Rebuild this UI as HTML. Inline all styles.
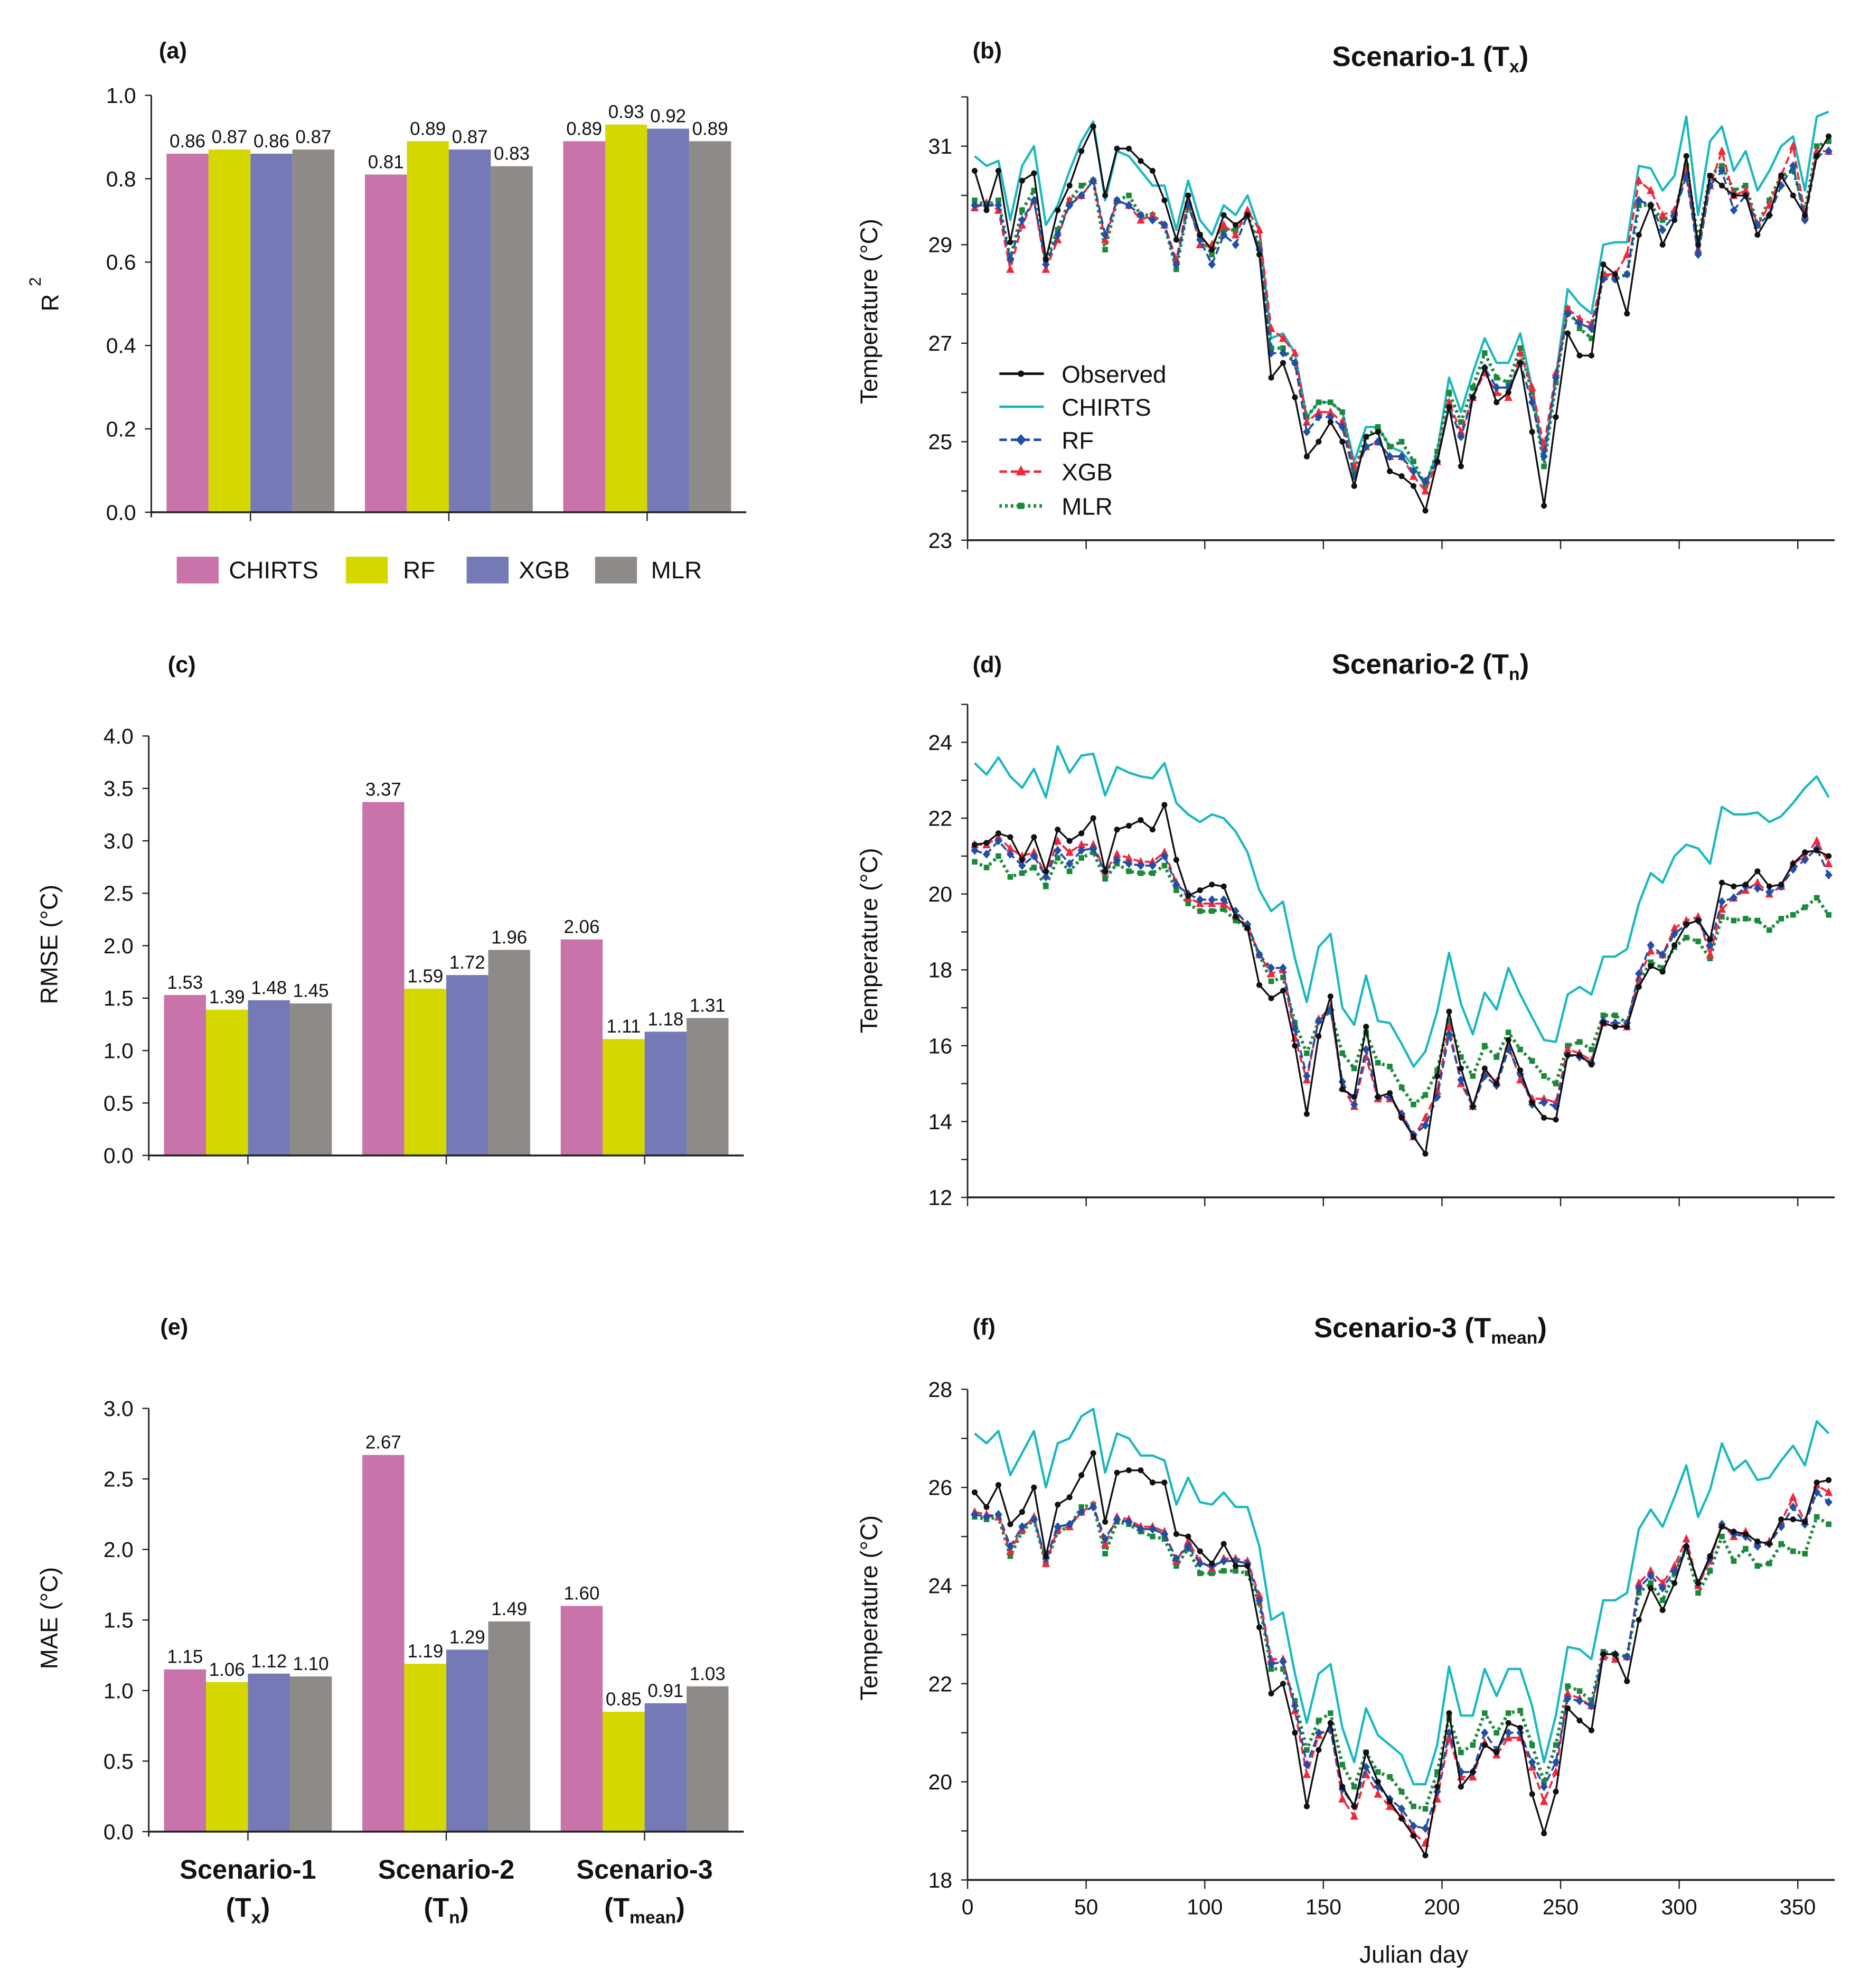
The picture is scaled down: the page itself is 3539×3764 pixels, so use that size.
<!DOCTYPE html>
<html><head><meta charset="utf-8">
<style>
html,body{margin:0;padding:0;background:#fff;}
svg{display:block;font-family:"Liberation Sans",Arial,sans-serif;}
</style></head>
<body>
<svg id="fig" width="3539" height="3764" viewBox="0 0 1470 1564" preserveAspectRatio="none" xmlns="http://www.w3.org/2000/svg">
<rect width="1470" height="1564" fill="#fff"/>
<g id="root"></g>
</svg>
<script>
// ---------- Bar chart data ----------
const models = ["CHIRTS","RF","XGB","MLR"];
const scenarios = ["Scenario-1","Scenario-2","Scenario-3"];
const r2CHIRTS = [0.86,0.81,0.89];
const r2RF = [0.87,0.89,0.93];
const r2XGB = [0.86,0.87,0.92];
const r2MLR = [0.87,0.83,0.89];
const rmseCHIRTS = [1.53,3.37,2.06];
const rmseRF = [1.39,1.59,1.11];
const rmseXGB = [1.48,1.72,1.18];
const rmseMLR = [1.45,1.96,1.31];
const maeCHIRTS = [1.15,2.67,1.60];
const maeRF = [1.06,1.19,0.85];
const maeXGB = [1.12,1.29,0.91];
const maeMLR = [1.10,1.49,1.03];
const r2Ticks = ["0.0","0.2","0.4","0.6","0.8","1.0"];
const rmseTicks = ["0.0","0.5","1.0","1.5","2.0","2.5","3.0","3.5","4.0"];
const maeTicks = ["0.0","0.5","1.0","1.5","2.0","2.5","3.0"];

// ---------- Time series data (every 5 days, day 3..363) ----------
const days = [3,8,13,18,23,28,33,38,43,48,53,58,63,68,73,78,83,88,93,98,103,108,113,118,123,128,133,138,143,148,153,158,163,168,173,178,183,188,193,198,203,208,213,218,223,228,233,238,243,248,253,258,263,268,273,278,283,288,293,298,303,308,313,318,323,328,333,338,343,348,353,358,363];
const xTicks = [0,50,100,150,200,250,300,350];

const txObs = [30.5,29.7,30.5,29.05,30.3,30.45,28.7,29.7,30.2,30.9,31.4,30.0,30.95,30.95,30.7,30.5,29.9,29.1,30.0,29.2,28.9,29.6,29.4,29.6,28.8,26.3,26.6,25.9,24.7,25.0,25.4,25.0,24.1,25.1,25.2,24.4,24.3,24.1,23.6,24.6,25.7,24.5,25.9,26.5,25.8,26.0,26.6,25.2,23.7,25.5,27.2,26.75,26.75,28.6,28.4,27.6,29.2,29.8,29.0,29.5,30.8,29.0,30.4,30.2,30.0,30.0,29.2,29.6,30.4,30.0,29.6,30.8,31.2];
const txCHIRTS = [30.8,30.6,30.7,29.5,30.6,31.0,29.4,29.8,30.5,31.1,31.5,29.9,30.9,30.8,30.5,30.2,30.2,29.3,30.3,29.5,29.2,29.8,29.6,30.0,29.3,27.1,27.2,26.8,25.5,25.8,25.8,25.6,24.6,25.3,25.3,24.9,24.8,24.5,24.1,24.8,26.3,25.6,26.4,27.1,26.6,26.6,27.2,26.1,24.6,26.3,28.1,27.8,27.6,29.0,29.05,29.05,30.6,30.55,30.1,30.4,31.6,29.6,31.1,31.4,30.5,30.9,30.1,30.5,31.0,31.2,30.1,31.6,31.7];
const txRF = [29.8,29.8,29.8,28.7,29.5,29.9,28.6,29.2,29.8,30.0,30.3,29.2,29.9,29.8,29.6,29.5,29.4,28.6,29.8,29.1,28.6,29.2,29.0,29.6,28.9,26.8,26.8,26.6,25.2,25.5,25.5,25.3,24.3,24.9,25.0,24.7,24.7,24.4,24.2,24.6,25.7,25.1,25.9,26.5,26.1,26.1,26.6,25.8,24.7,26.3,27.6,27.4,27.3,28.3,28.3,28.4,29.9,29.8,29.3,29.6,30.4,28.8,30.2,30.5,29.7,30.0,29.4,29.6,30.2,30.6,29.5,30.8,30.9];
const txXGB = [29.75,29.85,29.7,28.5,29.4,29.9,28.5,29.1,29.9,30.0,30.3,29.1,29.9,29.8,29.5,29.6,29.4,28.7,29.9,29.0,29.0,29.4,29.2,29.7,29.3,27.3,27.1,26.8,25.4,25.6,25.6,25.4,24.5,24.9,25.0,24.7,24.7,24.3,24.0,24.6,25.8,25.2,25.9,26.4,26.0,25.9,26.8,26.1,24.9,26.4,27.7,27.5,27.4,28.4,28.4,28.8,30.3,30.1,29.6,29.7,30.5,28.9,30.2,30.9,30.0,30.1,29.4,29.8,30.4,31.0,29.6,30.9,30.9];
const txMLR = [29.9,29.8,29.9,28.7,29.7,30.1,28.7,29.3,29.9,30.2,30.3,28.9,29.9,30.0,29.6,29.6,29.4,28.5,29.8,29.2,28.8,29.3,29.3,29.6,29.0,26.9,26.9,26.6,25.5,25.8,25.8,25.6,24.4,25.1,25.3,24.9,25.0,24.6,24.1,24.8,26.0,25.4,26.1,26.8,26.3,26.2,26.9,26.0,24.5,26.2,27.7,27.3,27.1,28.4,28.3,28.4,29.8,29.8,29.5,29.6,30.6,29.1,30.4,30.6,30.1,30.2,29.4,29.9,30.4,30.5,29.7,31.0,31.1];

const tnObs = [21.3,21.35,21.6,21.5,20.9,21.5,20.6,21.7,21.4,21.6,22.0,20.6,21.7,21.8,21.95,21.7,22.35,20.9,19.95,20.1,20.25,20.2,19.4,19.1,17.6,17.25,17.45,16.0,14.2,16.25,17.3,14.85,14.65,16.5,14.65,14.75,14.1,13.6,13.15,15.2,16.9,15.4,14.4,15.4,15.0,16.15,15.35,14.5,14.1,14.05,15.75,15.75,15.5,16.6,16.5,16.5,17.55,18.1,17.95,18.65,19.2,19.3,18.8,20.3,20.2,20.25,20.6,20.2,20.25,20.8,21.1,21.15,21.0];
const tnCHIRTS = [23.45,23.15,23.6,23.1,22.8,23.3,22.55,23.9,23.2,23.65,23.7,22.6,23.35,23.2,23.1,23.05,23.45,22.4,22.1,21.9,22.1,22.0,21.65,21.1,20.1,19.55,19.8,18.3,17.15,18.6,18.95,17.0,16.55,17.85,16.65,16.6,16.05,15.45,15.85,16.9,18.45,17.1,16.3,17.4,16.95,18.05,17.35,16.75,16.15,16.1,17.35,17.55,17.35,18.35,18.35,18.55,19.75,20.55,20.3,21.0,21.3,21.2,20.8,22.3,22.1,22.1,22.15,21.9,22.05,22.4,22.8,23.1,22.55];
const tnRF = [21.15,21.05,21.4,21.05,20.75,21.0,20.45,21.15,20.8,21.15,21.2,20.6,20.9,20.8,20.75,20.75,21.0,20.25,20.0,19.85,19.85,19.85,19.55,19.2,18.4,18.05,18.05,16.45,15.2,16.65,16.95,15.05,14.45,15.9,14.65,14.65,14.2,13.65,13.9,14.65,16.3,15.1,14.4,15.2,14.95,15.9,15.25,14.45,14.5,14.4,15.75,15.7,15.55,16.65,16.6,16.6,17.9,18.65,18.4,18.95,19.2,19.3,18.65,19.8,19.9,20.2,20.15,20.05,20.2,20.65,20.9,21.2,20.5];
const tnXGB = [21.3,21.3,21.5,21.2,21.0,21.1,20.5,21.4,21.1,21.3,21.3,20.6,21.05,20.95,20.85,20.85,21.1,20.3,19.9,19.75,19.75,19.75,19.45,19.15,18.4,17.9,18.0,16.2,15.1,16.7,17.0,14.9,14.4,15.7,14.6,14.6,14.2,13.6,14.1,14.8,16.5,15.0,14.4,15.3,15.05,16.0,15.1,14.6,14.6,14.5,15.9,15.8,15.6,16.6,16.6,16.5,17.8,18.5,18.4,19.1,19.3,19.4,18.4,19.6,19.9,20.1,20.3,20.0,20.2,20.8,21.0,21.4,20.8];
const tnMLR = [20.85,20.7,21.0,20.45,20.55,20.7,20.2,20.95,20.6,20.95,21.1,20.4,20.8,20.6,20.55,20.55,20.75,20.1,19.75,19.55,19.55,19.6,19.3,19.1,18.4,17.7,17.8,16.6,15.8,16.65,16.9,15.8,15.4,16.35,15.55,15.45,14.9,14.45,14.7,15.35,16.65,15.7,15.2,16.0,15.7,16.35,15.9,15.6,15.2,15.0,16.0,16.1,15.9,16.8,16.8,16.6,17.7,18.2,18.05,18.6,18.85,18.75,18.3,19.4,19.3,19.35,19.3,19.05,19.35,19.45,19.65,19.9,19.45];

const tmObs = [25.9,25.6,26.05,25.25,25.5,26.0,24.6,25.65,25.8,26.25,26.7,25.3,26.3,26.35,26.35,26.1,26.1,25.05,25.0,24.7,24.45,24.85,24.4,24.4,23.15,21.8,22.0,21.0,19.5,20.65,21.2,19.9,19.5,20.6,20.0,19.6,19.25,18.9,18.5,19.9,21.4,19.9,20.2,20.75,20.6,21.2,21.1,19.75,18.95,19.8,21.5,21.25,21.05,22.6,22.6,22.05,23.3,23.95,23.5,24.05,24.8,24.05,24.6,25.2,25.1,25.05,24.9,24.85,25.35,25.35,25.3,26.1,26.15];
const tmCHIRTS = [27.1,26.9,27.15,26.25,26.7,27.15,26.0,26.9,27.0,27.45,27.6,26.3,27.1,27.0,26.65,26.65,26.55,25.65,26.2,25.7,25.65,25.9,25.6,25.6,24.8,23.3,23.45,22.2,21.2,22.2,22.4,21.1,20.4,21.5,20.95,20.75,20.55,19.95,19.95,20.75,22.35,21.35,21.35,22.3,21.75,22.3,22.3,21.55,20.4,21.35,22.75,22.7,22.5,23.7,23.7,23.85,25.15,25.55,25.2,25.8,26.45,25.4,25.95,26.9,26.35,26.55,26.15,26.2,26.55,26.85,26.45,27.35,27.1];
const tmRF = [25.45,25.4,25.45,24.8,25.2,25.35,24.55,25.2,25.25,25.5,25.6,24.95,25.35,25.3,25.15,25.15,25.05,24.55,24.8,24.45,24.4,24.5,24.5,24.45,23.7,22.4,22.45,21.55,20.35,21.0,21.05,19.85,19.5,20.3,19.9,19.65,19.45,19.1,19.05,19.8,21.0,20.2,20.2,21.0,20.65,21.0,21.0,20.4,19.9,20.4,21.7,21.65,21.55,22.6,22.6,22.55,23.95,24.2,23.95,24.3,24.8,24.05,24.55,25.25,25.05,25.0,24.8,24.85,25.2,25.6,25.25,25.9,25.7];
const tmXGB = [25.5,25.45,25.4,24.7,25.15,25.4,24.45,25.15,25.2,25.5,25.65,24.85,25.4,25.35,25.2,25.2,25.1,24.5,24.9,24.5,24.35,24.55,24.55,24.5,23.8,22.5,22.5,21.45,20.15,20.95,21.1,19.65,19.3,20.15,19.75,19.5,19.3,18.95,18.75,19.65,20.9,20.1,20.1,20.8,20.55,20.9,20.9,20.3,19.6,20.2,21.8,21.7,21.55,22.55,22.5,22.55,24.05,24.3,24.05,24.4,24.95,24.0,24.5,25.25,25.0,25.1,24.85,24.9,25.3,25.8,25.3,26.05,25.9];
const tmMLR = [25.4,25.35,25.4,24.6,25.1,25.35,24.45,25.1,25.2,25.6,25.65,24.65,25.3,25.25,25.1,25.0,24.95,24.4,24.75,24.25,24.25,24.3,24.3,24.25,23.65,22.3,22.3,21.65,20.65,21.25,21.4,20.35,19.9,20.6,20.2,20.1,19.8,19.5,19.45,20.2,21.3,20.6,20.75,21.4,21.0,21.4,21.45,20.75,20.0,20.75,21.95,21.85,21.65,22.65,22.6,22.55,23.85,24.05,23.7,24.25,24.75,23.85,24.3,25.0,24.5,24.75,24.4,24.45,24.85,24.7,24.65,25.4,25.25];

const tbTicks = [23,25,27,29,31];
const tnTicks = [12,14,16,18,20,22,24];
const tmTicks = [18,20,22,24,26,28];

// ---------- drawing ----------
const NS = "http://www.w3.org/2000/svg";
const root = document.getElementById("root");
function mk(tag, attrs, parent, text){
  const e = document.createElementNS(NS, tag);
  for (const k in attrs) e.setAttribute(k, attrs[k]);
  if (text !== undefined) e.textContent = text;
  (parent || root).appendChild(e);
  return e;
}
const barColors = ["#c873aa","#d5d800","#7579b6","#8e8a87"];

function barPanel(name, x0, xEnd, yZero, yTop, vMax, ticks, series, fmt){
  const g = mk("g", {});
  
  
  const ys = v => yZero - (v / vMax) * (yZero - yTop);
  const band = 156, bw = 33;
  // axes
  const ya = mk("line", {x1:x0, y1:yTop, x2:x0, y2:yZero+4, stroke:"#222", "stroke-width":1.2}, g);
  
  
  ticks.forEach(t => {
    const v = parseFloat(t);
    const y = ys(v);
    mk("line", {x1:x0-5, y1:y, x2:x0, y2:y, stroke:"#222", "stroke-width":1}, g);
    const tl = mk("text", {x:x0-12, y:y+6, "text-anchor":"end", "font-size":17, fill:"#111"}, g, t);
    
    
  });
  series.forEach((vals, m) => {
    vals.forEach((v, c) => {
      const cx = x0 + band/2 + band*c;
      const bx = cx - 2*bw + m*bw;
      const r = mk("rect", {x:bx, y:ys(v), width:bw, height:yZero - ys(v), fill:barColors[m]}, g);
      
      
      const lb = mk("text", {x:bx + bw/2, y:ys(v) - 5, "text-anchor":"middle", "font-size":14.5, fill:"#111"}, g, v.toFixed(2));
      
      
    });
  });
  const xa = mk("line", {x1:x0, y1:yZero, x2:xEnd, y2:yZero, stroke:"#222", "stroke-width":1.5}, g);
  
  
  scenarios.forEach((s, c) => {
    const cx = x0 + band/2 + band*c;
    mk("line", {x1:cx, y1:yZero, x2:cx, y2:yZero+7, stroke:"#222", "stroke-width":1}, g);
  });
}

barPanel("r2", 119, 587, 403, 75, 1.0, r2Ticks, [r2CHIRTS, r2RF, r2XGB, r2MLR]);
barPanel("rmse", 117, 585, 909, 579, 4.0, rmseTicks, [rmseCHIRTS, rmseRF, rmseXGB, rmseMLR]);
barPanel("mae", 117, 585, 1441, 1108, 3.0, maeTicks, [maeCHIRTS, maeRF, maeXGB, maeMLR]);

function linePanel(name, yBottom, yTop, tMin, tTopVal, ticks, sObs, sCH, sRF, sXGB, sMLR, showX){
  const g = mk("g", {});
  
  
  const x0 = 761, xEnd = 1443;
  const xs = d => x0 + d * (1414 - 761) / 350;
  const pxPer = (yBottom - yTop) / (tTopVal - tMin);
  const ys = t => yBottom - (t - tMin) * pxPer;
  const topAxis = ys(ticks[ticks.length-1] + (name === "tmean" ? 0 : 1));
  mk("line", {x1:x0, y1:topAxis, x2:x0, y2:yBottom, stroke:"#222", "stroke-width":1.2}, g);
  for (let t = tMin; t <= ticks[ticks.length-1] + (name === "tmean" ? 0 : 1); t += 1){
    mk("line", {x1:x0-5, y1:ys(t), x2:x0, y2:ys(t), stroke:"#222", "stroke-width":1}, g);
  }
  ticks.forEach(t => {
    const tl = mk("text", {x:x0-12, y:ys(t)+6, "text-anchor":"end", "font-size":17, fill:"#111"}, g, String(t));
    
    
  });
  mk("line", {x1:x0, y1:yBottom, x2:xEnd, y2:yBottom, stroke:"#222", "stroke-width":1.5}, g);
  xTicks.forEach(d => {
    mk("line", {x1:xs(d), y1:yBottom, x2:xs(d), y2:yBottom+7, stroke:"#222", "stroke-width":1}, g);
    if (showX){
      const tl = mk("text", {x:xs(d), y:yBottom+27, "text-anchor":"middle", "font-size":17, fill:"#111"}, g, String(d));
      
      
    }
  });
  const pts = arr => arr.map((v,i) => xs(days[i]).toFixed(1) + "," + ys(v).toFixed(1)).join(" ");
  const defs = [
    {arr:sCH, color:"#19b8bf", w:1.8, dash:null, mark:null, key:"chirts"},
    {arr:sMLR, color:"#1a8a3a", w:2.6, dash:"2,2.5", mark:"sq", key:"mlr"},
    {arr:sXGB, color:"#f0283c", w:1.6, dash:"6,3", mark:"tri", key:"xgb"},
    {arr:sRF, color:"#1f4fa6", w:1.6, dash:"6,3", mark:"dia", key:"rf"},
    {arr:sObs, color:"#111", w:1.4, dash:null, mark:"dot", key:"observed"}
  ];
  defs.forEach(s => {
    const a = {points:pts(s.arr), fill:"none", stroke:s.color, "stroke-width":s.w, "stroke-linejoin":"round"};
    if (s.dash) a["stroke-dasharray"] = s.dash;
    const pl = mk("polyline", a, g);
    
    
    if (s.mark){
      s.arr.forEach((v,i) => {
        const x = xs(days[i]), y = ys(v);
        let m;
        if (s.mark === "dot") m = mk("circle", {cx:x, cy:y, r:2.3, fill:s.color}, g);
        else if (s.mark === "dia") m = mk("polygon", {points:`${x},${y-3.5} ${x+3},${y} ${x},${y+3.5} ${x-3},${y}`, fill:s.color}, g);
        else if (s.mark === "tri") m = mk("polygon", {points:`${x},${y-3.8} ${x+3.2},${y+2.8} ${x-3.2},${y+2.8}`, fill:s.color}, g);
        else m = mk("rect", {x:x-2.2, y:y-2.2, width:4.4, height:4.4, fill:s.color}, g);
        
        
      });
    }
  });
}

linePanel("tx", 425, 115, 23, 31, tbTicks, txObs, txCHIRTS, txRF, txXGB, txMLR, false);
linePanel("tn", 942, 584, 12, 24, tnTicks, tnObs, tnCHIRTS, tnRF, tnXGB, tnMLR, false);
linePanel("tmean", 1479, 1093, 18, 28, tmTicks, tmObs, tmCHIRTS, tmRF, tmXGB, tmMLR, true);
</script>

<script>
// static labels
(function(){
const NS="http://www.w3.org/2000/svg";
const root=document.getElementById("root");
function t(x,y,s,txt,extra,name){
  const e=document.createElementNS(NS,"text");
  e.setAttribute("x",x);e.setAttribute("y",y);e.setAttribute("font-size",s);e.setAttribute("fill","#111");
  for(const k in (extra||{}))e.setAttribute(k,extra[k]);
  e.innerHTML=txt;
  
  
  root.appendChild(e);return e;
}
const B={"font-weight":"bold"};
t(125,46,18,"(a)",B,"panel-label-a");
t(132,529,18,"(c)",B,"panel-label-c");
t(126,1050,18,"(e)",B,"panel-label-e");
t(765,46,18,"(b)",B,"panel-label-b");
t(765,529,18,"(d)",B,"panel-label-d");
t(765,1050,18,"(f)",B,"panel-label-f");
t(1125,52,22,'Scenario-1 (T<tspan font-size="14" dy="5">x</tspan><tspan dy="-5">)</tspan>',{"font-weight":"bold","text-anchor":"middle"},"title-scenario-1");
t(1125,530,22,'Scenario-2 (T<tspan font-size="14" dy="5">n</tspan><tspan dy="-5">)</tspan>',{"font-weight":"bold","text-anchor":"middle"},"title-scenario-2");
t(1125,1052,22,'Scenario-3 (T<tspan font-size="14" dy="5">mean</tspan><tspan dy="-5">)</tspan>',{"font-weight":"bold","text-anchor":"middle"},"title-scenario-3");
t(0,0,19,'R<tspan font-size="13" dy="-14" dx="6">2</tspan>',{transform:"translate(46,245) rotate(-90)"},"r2-y-title");
t(0,0,19,'RMSE (°C)',{transform:"translate(45,743) rotate(-90)","text-anchor":"middle"},"rmse-y-title");
t(0,0,19,'MAE (°C)',{transform:"translate(45,1273) rotate(-90)","text-anchor":"middle"},"mae-y-title");
t(0,0,19,'Temperature (°C)',{transform:"translate(690,245) rotate(-90)","text-anchor":"middle"},"tx-y-title");
t(0,0,19,'Temperature (°C)',{transform:"translate(690,740) rotate(-90)","text-anchor":"middle"},"tn-y-title");
t(0,0,19,'Temperature (°C)',{transform:"translate(690,1265) rotate(-90)","text-anchor":"middle"},"tmean-y-title");
t(1112,1544,19,'Julian day',{"text-anchor":"middle"},"x-axis-title");
// scenario category labels
[[195,"Scenario-1","x"],[351,"Scenario-2","n"],[507,"Scenario-3","mean"]].forEach((c,i)=>{
  t(c[0],1478,21,c[1],{"font-weight":"bold","text-anchor":"middle"},"category-label-"+(i+1));
  t(c[0],1508,21,'(T<tspan font-size="14" dy="5">'+c[2]+'</tspan><tspan dy="-5">)</tspan>',{"font-weight":"bold","text-anchor":"middle"},"category-sub-"+(i+1));
});
// bar legend
const lg=[[139,180,"CHIRTS","#c873aa"],[272,317,"RF","#d5d800"],[367,408,"XGB","#7579b6"],[468,512,"MLR","#8e8a87"]];
lg.forEach(l=>{
  const r=document.createElementNS(NS,"rect");
  r.setAttribute("x",l[0]);r.setAttribute("y",438);r.setAttribute("width",33);r.setAttribute("height",21);r.setAttribute("fill",l[3]);
  
  
  root.appendChild(r);
  t(l[1],455,19,l[2],{},"legend-entry-"+l[2].toLowerCase());
});
// line legend (panel b)
const ll=[[294,"Observed","#111",null,"dot"],[320,"CHIRTS","#19b8bf",null,null],[346,"RF","#1f4fa6","6,3","dia"],[371,"XGB","#f0283c","6,3","tri"],[398,"MLR","#1a8a3a","2,2.5","sq"]];
ll.forEach(l=>{
  const ln=document.createElementNS(NS,"line");
  ln.setAttribute("x1",786);ln.setAttribute("x2",821);ln.setAttribute("y1",l[0]);ln.setAttribute("y2",l[0]);
  ln.setAttribute("stroke",l[2]);ln.setAttribute("stroke-width",l[4]==="sq"?2.8:2);
  if(l[3])ln.setAttribute("stroke-dasharray",l[3]);
  
  
  root.appendChild(ln);
  if(l[4]){
    let m;const x=803,y=l[0];
    if(l[4]==="dot"){m=document.createElementNS(NS,"circle");m.setAttribute("cx",x);m.setAttribute("cy",y);m.setAttribute("r",2.5);}
    else if(l[4]==="dia"){m=document.createElementNS(NS,"polygon");m.setAttribute("points",`${x},${y-4.5} ${x+4},${y} ${x},${y+4.5} ${x-4},${y}`);}
    else if(l[4]==="tri"){m=document.createElementNS(NS,"polygon");m.setAttribute("points",`${x},${y-5} ${x+4},${y+3} ${x-4},${y+3}`);}
    else {m=document.createElementNS(NS,"rect");m.setAttribute("x",x-2.5);m.setAttribute("y",y-2.5);m.setAttribute("width",5);m.setAttribute("height",5);}
    m.setAttribute("fill",l[2]);
    
    
    root.appendChild(m);
  }
  t(835,l[0]+7,19,l[1],{},"line-legend-entry-"+l[1].toLowerCase());
});
})();
</script>
</body></html>
